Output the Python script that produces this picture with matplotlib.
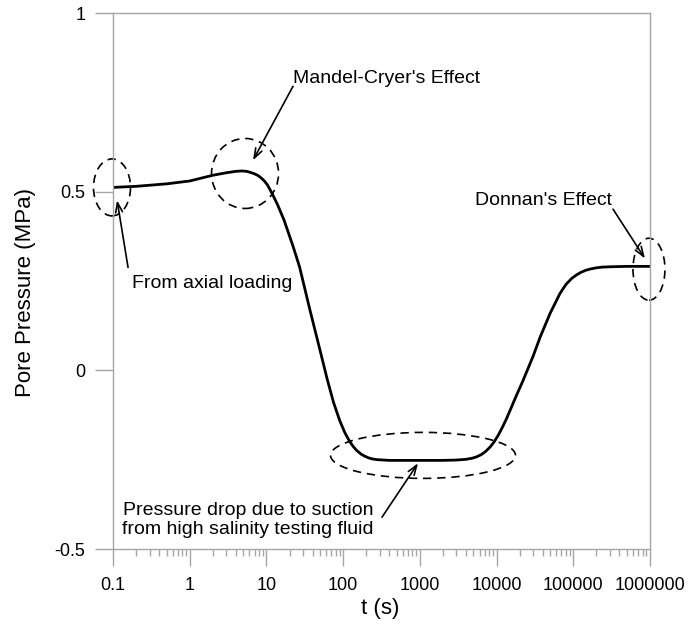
import numpy as np
import matplotlib
matplotlib.use("Agg")
import matplotlib.pyplot as plt
from matplotlib.patches import Ellipse
from matplotlib.ticker import FixedLocator, LogLocator, NullFormatter

plt.rcParams['font.family'] = ['Liberation Sans', 'DejaVu Sans']

# pore pressure response
t_s = [0.1, 0.2, 0.5, 1, 2, 3, 4, 4.8, 5.5, 6.2, 7, 7.8, 8.6, 9.4, 10.3, 11.2, 12.5, 14, 17,
       22, 27, 37, 50, 62, 75, 90, 105, 120, 135, 150, 170, 190, 215, 240, 280, 400, 700,
       1000, 2000, 3000, 4000, 4800, 5500, 6300, 7200, 8200, 9300, 10500, 12000, 13500,
       15000, 18000, 22000, 30000, 37000, 50000, 67000, 80000, 95000, 110000, 125000,
       145000, 170000, 200000, 240000, 320000, 500000, 1000000]
pore_mpa = [0.512, 0.515, 0.522, 0.530, 0.546, 0.553, 0.557, 0.558, 0.557, 0.554, 0.550,
            0.545, 0.538, 0.530, 0.519, 0.505, 0.485, 0.463, 0.420, 0.350, 0.290, 0.168,
            0.056, -0.025, -0.090, -0.140, -0.174, -0.197, -0.213, -0.224, -0.234, -0.240,
            -0.245, -0.248, -0.250, -0.252, -0.252, -0.252, -0.252, -0.251, -0.249, -0.246,
            -0.242, -0.236, -0.227, -0.215, -0.200, -0.182, -0.158, -0.135, -0.112, -0.072,
            -0.030, 0.040, 0.093, 0.160, 0.215, 0.240, 0.257, 0.267, 0.274, 0.280, 0.284,
            0.287, 0.289, 0.290, 0.291, 0.291]

x_ticks = [0.1, 1, 10, 100, 1000, 10000, 100000, 1000000]
x_labels = ["0.1", "1", "10", "100", "1000", "10000", "100000", "1000000"]
y_ticks = [-0.5, 0, 0.5, 1]
y_labels = ["-0.5", "0", "0.5", "1"]

grey = "#a6a6a6"

fig = plt.figure(figsize=(6.9, 6.27), dpi=100)
ax = fig.add_axes([0.1638, 0.1244, 0.7782, 0.8548])

ax.plot(t_s, pore_mpa, color="black", lw=2.0, solid_joinstyle="round")

ax.set_xscale("log")
ax.set_xlim(0.1, 1e6)
ax.set_ylim(-0.5, 1)

ax.xaxis.set_major_locator(FixedLocator(x_ticks))
ax.set_xticklabels(x_labels)
ax.xaxis.set_minor_locator(LogLocator(base=10, subs=np.arange(2, 10), numticks=20))
ax.xaxis.set_minor_formatter(NullFormatter())
ax.set_yticks(y_ticks)
ax.set_yticklabels(y_labels)

for s in ax.spines.values():
    s.set_color(grey)
    s.set_linewidth(1.0)

ax.tick_params(axis="x", which="major", direction="out", length=12.5, width=1.0,
               color=grey, labelsize=13, pad=8)
ax.tick_params(axis="x", which="minor", direction="out", length=5, width=1.0, color=grey)
ax.tick_params(axis="y", which="major", direction="out", length=13, width=1.0,
               color=grey, labelsize=13, pad=7)

ax.set_xlabel("t (s)", fontsize=16)
ax.set_ylabel("Pore Pressure (MPa)", fontsize=16)
ax.xaxis.set_label_coords(0.497, -0.091)
ax.yaxis.set_label_coords(-0.143, 0.478)

# dashed ellipses (centre in data units, size in pixels)
to_axes = ax.transData + ax.transAxes.inverted()
ellipses = [((0.097, 0.512), 37, 57),
            ((5.26, 0.551), 67, 70),
            ((1100, -0.238), 185, 46),
            ((9.7e5, 0.283), 32, 62)]
for (cx, cy), w, h in ellipses:
    c = to_axes.transform((cx, cy))
    ax.add_patch(Ellipse(c, w / 537, h / 536, transform=ax.transAxes, fill=False,
                         ec="black", lw=1.2, ls=(0, (5, 3.5)), clip_on=False))

arrow = dict(arrowstyle="->,head_length=0.7,head_width=0.25", color="black", lw=1.2,
             shrinkA=0, shrinkB=0)
fs = 14

ax.text(22.2, 0.817, "Mandel-Cryer's Effect", fontsize=fs, ha="left", va="center")
ax.annotate("", xy=(6.68, 0.588), xytext=(22.2, 0.795), arrowprops=arrow)

ax.text(0.177, 0.243, "From axial loading", fontsize=fs, ha="left", va="center")
ax.annotate("", xy=(0.113, 0.476), xytext=(0.157, 0.288), arrowprops=arrow,
            annotation_clip=False)

ax.text(3.2e5, 0.476, "Donnan's Effect", fontsize=fs, ha="right", va="center")
ax.annotate("", xy=(8.6e5, 0.313), xytext=(3.3e5, 0.451), arrowprops=arrow)

ax.text(5.76, -0.418, "Pressure drop due to suction\nfrom high salinity testing fluid",
        fontsize=fs, ha="center", va="center", linespacing=1.15)
ax.annotate("", xy=(946, -0.26), xytext=(321, -0.411), arrowprops=arrow)

fig.savefig("out.png", dpi=100)
